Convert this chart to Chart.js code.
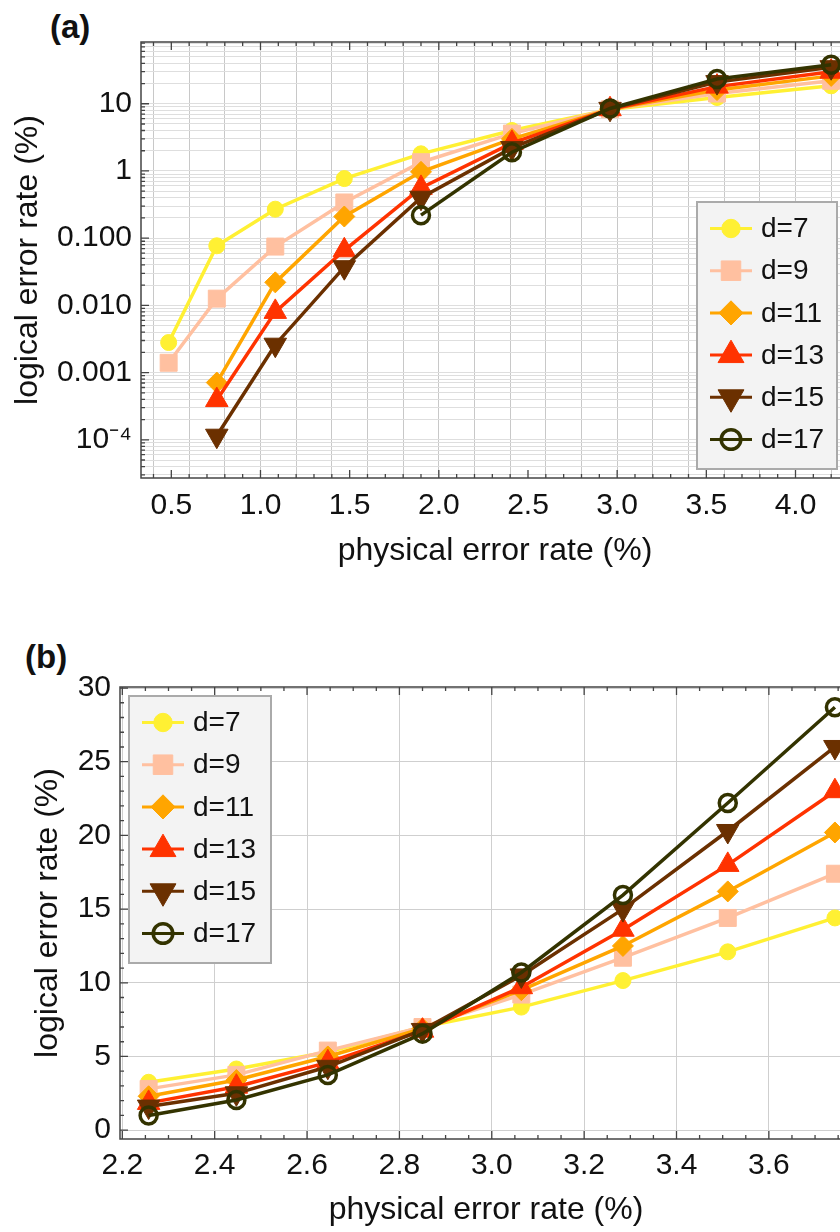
<!DOCTYPE html>
<html>
<head>
<meta charset="utf-8">
<script src="https://cdn.jsdelivr.net/npm/chart.js@4.4.1/dist/chart.umd.min.js"></script>
<style>
  html, body { margin: 0; padding: 0; background: #fff; }
  body { width: 840px; height: 1232px; overflow: hidden; position: relative; font-family: "Liberation Sans", Arial, sans-serif; }
  .panel { position: absolute; left: 0; width: 880px; }
  .tag { position: absolute; font-weight: bold; font-size: 33px; line-height: 1; color: #111; }
</style>
</head>
<body>
<div class="tag" style="left:50px; top:10px">(a)</div>
<div class="panel" style="top:0; height:590px"><canvas id="chartA" width="880" height="590"></canvas></div>
<div class="tag" style="left:25px; top:640px">(b)</div>
<div class="panel" style="top:640px; height:592px"><canvas id="chartB" width="880" height="592"></canvas></div>

<script>
// ---- data ----
const seriesLabels = ['d=7', 'd=9', 'd=11', 'd=13', 'd=15', 'd=17'];

// panel (a), log scale
const xA = [0.485, 0.755, 1.083, 1.47, 1.90, 2.41, 2.96, 3.56, 4.20];
const d7A  = [0.0028, 0.077, 0.27, 0.77, 1.8, 4.0, 8.2, 12.4, 18.5];
const d9A  = [0.0014, 0.0126, 0.075, 0.34, 1.35, 3.6, 8.3, 14.2, 22];
const d11A = [null, 0.00071, 0.022, 0.21, 0.97, 3.0, 8.3, 16, 26];
const d13A = [null, 0.00039, 0.0080, 0.066, 0.56, 2.6, 8.3, 18, 30];
const d15A = [null, 0.000115, 0.0026, 0.037, 0.40, 2.2, 8.4, 21, 35];
const d17A = [null, null, null, null, 0.22, 1.9, 8.5, 23.3, 38];

// panel (b), linear scale
const xB = [2.257, 2.447, 2.645, 2.850, 3.064, 3.284, 3.511, 3.743];
const d7B  = [3.25, 4.15, 5.3, 7.0, 8.35, 10.15, 12.1, 14.4];
const d9B  = [2.8, 3.75, 5.4, 7.0, 9.2, 11.7, 14.4, 17.4];
const d11B = [2.3, 3.4, 5.0, 6.9, 9.5, 12.5, 16.2, 20.2];
const d13B = [1.85, 2.95, 4.6, 6.75, 9.7, 13.6, 18.0, 23.0];
const d15B = [1.6, 2.5, 4.3, 6.8, 10.5, 15.0, 20.3, 26.0];
const d17B = [1.0, 2.05, 3.75, 6.55, 10.7, 15.95, 22.2, 28.7];

const logLabels = { '1': '10', '0': '1', '-1': '0.100', '-2': '0.010', '-3': '0.001', '-4': '10\u207B\u2074' };

// ---- styles ----
const colors = ['#fff033', '#ffc0a0', '#ffa500', '#ff3300', '#6b3000', '#333300'];
const shapes = ['circle', 'rect', 'rectRot', 'triangle', 'triangle', 'circle'];
const rotations = [0, 0, 0, 0, 180, 0];
const radii = [8, 12, 10.5, 13, 13, 8.5];

Chart.defaults.font.family = '"Liberation Sans", Arial, sans-serif';
Chart.defaults.font.size = 30;
Chart.defaults.color = '#111';
const titleFont = { size: 32 };

function makeDatasets(xs, lists) {
  return lists.map((ys, i) => ({
    label: seriesLabels[i],
    data: xs.map((x, j) => ({ x: x, y: ys[j] })).filter(p => p.y !== null),
    borderColor: colors[i],
    borderWidth: 3.5,
    pointStyle: shapes[i],
    pointRotation: rotations[i],
    pointRadius: radii[i],
    pointHoverRadius: radii[i],
    pointBackgroundColor: i === 5 ? 'rgba(0,0,0,0)' : colors[i],
    pointBorderColor: colors[i],
    pointBorderWidth: i === 5 ? 3.5 : 1,
    tension: 0,
    order: 6 - i
  }));
}

function isMult(v, step) {
  const k = v / step;
  return Math.abs(k - Math.round(k)) < 1e-6;
}

function linTicks(lo, hi, step) {
  const t = [];
  for (let k = Math.ceil(lo / step - 1e-9); k * step <= hi + 1e-9; k++) {
    t.push({ value: +(k * step).toFixed(6) });
  }
  return t;
}

function marker(ctx, ds, x, y, k) {
  const r = ds.pointRadius * k;
  ctx.save();
  ctx.translate(x, y);
  ctx.rotate((ds.pointRotation || 0) * Math.PI / 180);
  ctx.beginPath();
  if (ds.pointStyle === 'circle') {
    ctx.arc(0, 0, r, 0, 2 * Math.PI);
  } else if (ds.pointStyle === 'rect') {
    const s = r * Math.SQRT1_2;
    ctx.rect(-s, -s, 2 * s, 2 * s);
  } else if (ds.pointStyle === 'rectRot') {
    ctx.moveTo(0, -r); ctx.lineTo(r, 0); ctx.lineTo(0, r); ctx.lineTo(-r, 0); ctx.closePath();
  } else {
    for (let i = 0; i < 3; i++) {
      const t = i * 2 * Math.PI / 3;
      if (i === 0) ctx.moveTo(r * Math.sin(t), -r * Math.cos(t));
      else ctx.lineTo(r * Math.sin(t), -r * Math.cos(t));
    }
    ctx.closePath();
  }
  ctx.fillStyle = ds.pointBackgroundColor;
  ctx.fill();
  if (ds.pointBorderWidth > 0) {
    ctx.lineWidth = ds.pointBorderWidth;
    ctx.strokeStyle = ds.pointBorderColor;
    ctx.stroke();
  }
  ctx.restore();
}

// frame with inward ticks + boxed legend inside the plot
const framePlugin = {
  id: 'frame',
  afterDraw(chart, args, opts) {
    const { ctx, chartArea: a } = chart;
    const xs = chart.scales.x, ys = chart.scales.y;
    ctx.save();
    ctx.strokeStyle = '#444';
    ctx.lineWidth = 1.5;
    ctx.strokeRect(a.left, a.top, a.right - a.left, a.bottom - a.top);
    ctx.lineWidth = 1.3;
    ctx.beginPath();
    xs.ticks.forEach(t => {
      const p = xs.getPixelForValue(t.value);
      if (p <= a.left + 1 || p >= a.right - 1) return;
      const len = t.label ? 8 : 4;
      ctx.moveTo(p, a.bottom); ctx.lineTo(p, a.bottom - len);
      ctx.moveTo(p, a.top); ctx.lineTo(p, a.top + len);
    });
    ys.ticks.forEach(t => {
      const p = ys.getPixelForValue(t.value);
      if (p <= a.top + 1 || p >= a.bottom - 1) return;
      const len = t.label ? 8 : 4;
      ctx.moveTo(a.left, p); ctx.lineTo(a.left + len, p);
      ctx.moveTo(a.right, p); ctx.lineTo(a.right - len, p);
    });
    ctx.stroke();

    // legend
    const bx = a.left + opts.dx, by = a.top + opts.dy;
    ctx.fillStyle = '#f3f3f3';
    ctx.fillRect(bx, by, opts.w, opts.h);
    ctx.strokeStyle = '#aaaaaa';
    ctx.lineWidth = 2;
    ctx.strokeRect(bx, by, opts.w, opts.h);
    ctx.font = '28px "Liberation Sans", Arial, sans-serif';
    ctx.textBaseline = 'middle';
    ctx.textAlign = 'left';
    chart.data.datasets.forEach((ds, i) => {
      const yy = by + 26.5 + i * 42.2;
      ctx.strokeStyle = ds.borderColor;
      ctx.lineWidth = 3;
      ctx.beginPath();
      ctx.moveTo(bx + 13, yy); ctx.lineTo(bx + 55, yy);
      ctx.stroke();
      marker(ctx, ds, bx + 34, yy, 1.15);
      ctx.fillStyle = '#111';
      ctx.fillText(ds.label, bx + 64, yy + 1);
    });
    ctx.restore();
  }
};

// ---- panel (a) ----
new Chart(document.getElementById('chartA'), {
  type: 'line',
  data: { datasets: makeDatasets(xA, [d7A, d9A, d11A, d13A, d15A, d17A]) },
  options: {
    responsive: false,
    animation: false,
    events: [],
    layout: { padding: { left: 0, top: 42, right: 31, bottom: 0 } },
    plugins: {
      legend: { display: false },
      tooltip: { enabled: false },
      frame: { dx: 556, dy: 160, w: 140, h: 267 }
    },
    scales: {
      x: {
        type: 'linear',
        min: 0.33,
        max: 4.3,
        afterBuildTicks: s => { s.ticks = linTicks(s.min, s.max, 0.1); },
        afterFit: s => { s.height = 112; },
        ticks: {
          autoSkip: false,
          maxRotation: 0,
          padding: 10,
          callback: v => isMult(v, 0.5) ? v.toFixed(1) : ''
        },
        grid: {
          drawTicks: false,
          color: c => (c.tick && isMult(c.tick.value, 0.2)) ? '#c8c8c8' : 'rgba(0,0,0,0)'
        },
        border: { display: false },
        title: { display: true, text: 'physical error rate (%)', font: titleFont, padding: { top: 0, bottom: 20 } }
      },
      y: {
        type: 'logarithmic',
        min: 2.7e-5,
        max: 83,
        afterBuildTicks: s => {
          const t = [];
          for (let e = -5; e <= 2; e++) {
            for (let m = 1; m <= 9; m++) {
              const v = +(m * Math.pow(10, e)).toPrecision(6);
              if (v >= s.min && v <= s.max) t.push({ value: v });
            }
          }
          s.ticks = t;
        },
        afterFit: s => { s.width = 141; },
        ticks: {
          autoSkip: false,
          padding: 9,
          callback: v => {
            const e = Math.round(Math.log10(v));
            if (Math.abs(Math.log10(v) - e) > 1e-6) return '';
            return logLabels[String(e)] || '';
          }
        },
        grid: { drawTicks: false, color: '#dedede' },
        border: { display: false },
        title: { display: true, text: 'logical error rate (%)', font: titleFont, padding: { top: 9, bottom: 0 } }
      }
    }
  },
  plugins: [framePlugin]
});

// ---- panel (b) ----
new Chart(document.getElementById('chartB'), {
  type: 'line',
  data: { datasets: makeDatasets(xB, [d7B, d9B, d11B, d13B, d15B, d17B]) },
  options: {
    responsive: false,
    animation: false,
    events: [],
    layout: { padding: { left: 0, top: 47, right: 28, bottom: 0 } },
    plugins: {
      legend: { display: false },
      tooltip: { enabled: false },
      frame: { dx: 9, dy: 9, w: 142, h: 267 }
    },
    scales: {
      x: {
        type: 'linear',
        min: 2.195,
        max: 3.78,
        afterBuildTicks: s => { s.ticks = linTicks(s.min, s.max, 0.05); },
        afterFit: s => { s.height = 93; },
        ticks: {
          autoSkip: false,
          maxRotation: 0,
          padding: 9,
          callback: v => isMult(v, 0.2) ? v.toFixed(1) : ''
        },
        grid: {
          drawTicks: false,
          color: c => (c.tick && isMult(c.tick.value, 0.2)) ? '#cfcfcf' : 'rgba(0,0,0,0)'
        },
        border: { display: false },
        title: { display: true, text: 'physical error rate (%)', font: titleFont, padding: { top: 0, bottom: 3 } }
      },
      y: {
        type: 'linear',
        min: -0.6,
        max: 30.07,
        afterBuildTicks: s => { s.ticks = linTicks(s.min, s.max, 1); },
        afterFit: s => { s.width = 120; },
        ticks: {
          autoSkip: false,
          padding: 9,
          callback: v => isMult(v, 5) ? String(Math.round(v)) : ''
        },
        grid: {
          drawTicks: false,
          color: c => (c.tick && isMult(c.tick.value, 5)) ? '#cfcfcf' : 'rgba(0,0,0,0)'
        },
        border: { display: false },
        title: { display: true, text: 'logical error rate (%)', font: titleFont, padding: { top: 29, bottom: 0 } }
      }
    }
  },
  plugins: [framePlugin]
});
</script>
</body>
</html>
